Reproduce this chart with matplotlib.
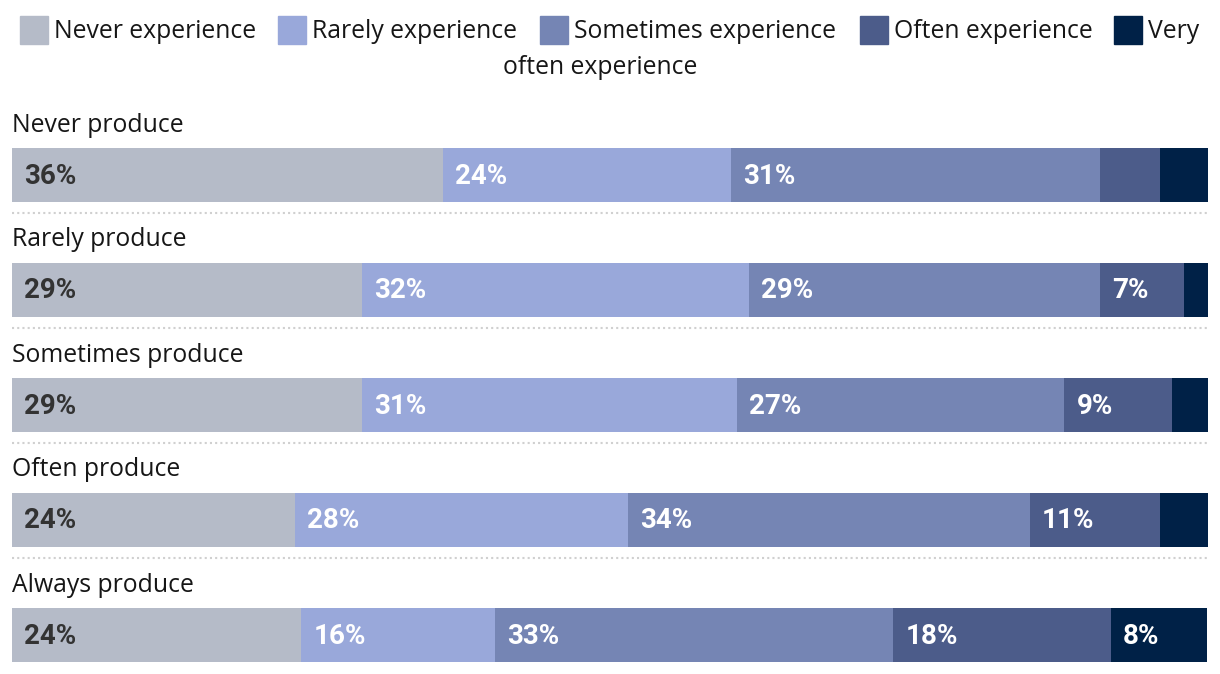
import matplotlib
matplotlib.use("Agg")
import matplotlib.pyplot as plt
from matplotlib.patches import Rectangle

plt.rcParams['font.family'] = ['Open Sans', 'DejaVu Sans']

rows = ["Never produce", "Rarely produce", "Sometimes produce", "Often produce", "Always produce"]
series = ["Never experience", "Rarely experience", "Sometimes experience", "Often experience", "Very often experience"]
never_exp = [36.0, 29.3, 29.3, 23.7, 24.2]
rarely_exp = [24.1, 32.3, 31.3, 27.8, 16.2]
sometimes_exp = [30.9, 29.4, 27.4, 33.6, 33.3]
often_exp = [5.0, 7.0, 9.0, 10.9, 18.2]
very_often_exp = [4.0, 2.0, 3.0, 4.0, 8.0]
colors = ["#b5bbc8", "#99a8da", "#7585b4", "#4c5c8a", "#002147"]
label_colors = ["#333333", "white", "white", "white", "white"]

W, H = 1220, 674
fig = plt.figure(figsize=(W / 100, H / 100), dpi=100)
ax = fig.add_axes([12 / W, 0, 1196 / W, 1])
ax.set_xlim(0, 100)
ax.set_ylim(H, 0)
ax.axis('off')

data = [never_exp, rarely_exp, sometimes_exp, often_exp, very_often_exp]
centers = [175 + 115 * i for i in range(len(rows))]
FS = 17.8

for i, row in enumerate(rows):
    yc = centers[i]
    left = 0.0
    for s in range(len(series)):
        v = data[s][i]
        ax.barh(yc, v, left=left, height=54, color=colors[s], linewidth=0)
        if v >= 6.5:
            ax.text(left + 1.0, yc + 1, f"{round(v):.0f}%", va='center', ha='left',
                    fontsize=20, fontweight='bold', color=label_colors[s],
                    family=['Roboto', 'DejaVu Sans'])
        left += v
    ax.text(0, yc - 50, row, va='center', ha='left', fontsize=FS, color='#161616')
    if i < len(rows) - 1:
        ax.plot([0, 100], [yc + 38, yc + 38], color='#d0d0d0', lw=1.5,
                linestyle=(0, (1, 1.5)), solid_capstyle='butt')

# legend
sq_x = [20, 278, 540, 860, 1114]
for s, name in enumerate(series):
    fig.patches.append(Rectangle((sq_x[s] / W, 1 - 44 / H), 28 / W, 28 / H,
                                 transform=fig.transFigure, color=colors[s]))
    txt = name if s < 4 else "Very"
    fig.text((sq_x[s] + 34) / W, 1 - 32 / H, txt, va='center', ha='left',
             fontsize=FS, color='#161616')
fig.text(600 / W, 1 - 67 / H, "often experience", va='center', ha='center',
         fontsize=FS, color='#161616')

fig.savefig("out.png", dpi=100)
